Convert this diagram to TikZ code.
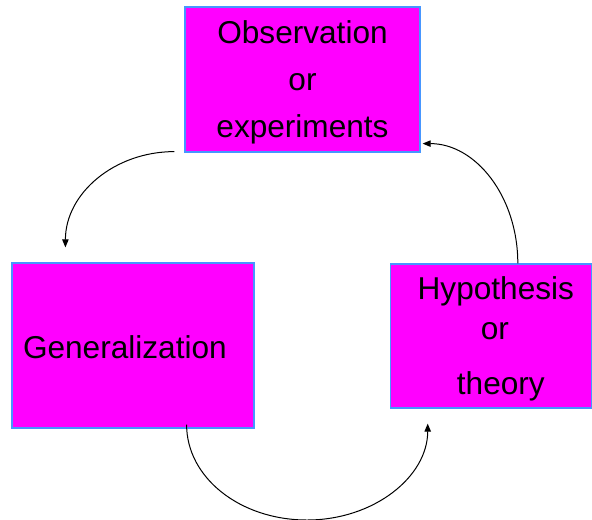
\documentclass[tikz,border=0pt]{standalone}
\usepackage{fontspec}
\setmainfont{Liberation Sans}
\usetikzlibrary{arrows.meta,calc}

\definecolor{boxfill}{RGB}{255,0,255}
\definecolor{boxline}{RGB}{70,150,255}
\newcommand{\topstrut}[1]{\rule{0pt}{#1}}

\begin{document}
\begin{tikzpicture}[x=0.5pt,y=-0.5pt,
  box/.style={draw=boxline,line width=0.6pt,fill=boxfill,inner sep=0pt,
    font=\fontsize{15.8}{23.5}\selectfont},
  arr/.style={line width=0.5pt,-{Triangle[length=4pt,width=3.2pt]}}]
%\clip (0,0) rectangle (592,519);
\useasboundingbox (0,0) rectangle (592,519);
	\node[box,minimum width=117.5pt,minimum height=72.5pt,align=center] (obs) at (302.5,79.5)
		{\topstrut{14.5pt}Observation\\or\\experiments};
	\node[box,minimum width=121pt,minimum height=82.5pt,align=left,text width=110pt] (gen) at (133,345.5)
		{\topstrut{13.5pt}Generalization};
	\node[box,minimum width=100.5pt,minimum height=72pt,align=center] (hyp) at (490.8,336)
		{\topstrut{14.5pt}\hspace*{5pt}Hypothesis\\[-3.5pt]\hspace*{4pt}or\\[4pt]\hspace*{10pt}theory};
%arrows
	\coordinate (low) at (307,520);
	\draw[arr] ($(obs.south west)+(-10,-1)$) .. controls +(-60,0) and +(0,-54) .. ($(gen.north west)+(54,-15)$);
	\draw[arr] ($(hyp.north)+(27,0)$) .. controls +(0,-67) and +(53,0) .. ($(obs.south east)+(2,-9)$);
	\draw[arr] ($(gen.south east)+(-68,-4)$) .. controls +(0,53) and +(-67,0) .. (low)
		.. controls +(67,0) and +(0,53) .. ($(hyp.south west)+(38,15)$);
\end{tikzpicture}
\end{document}
